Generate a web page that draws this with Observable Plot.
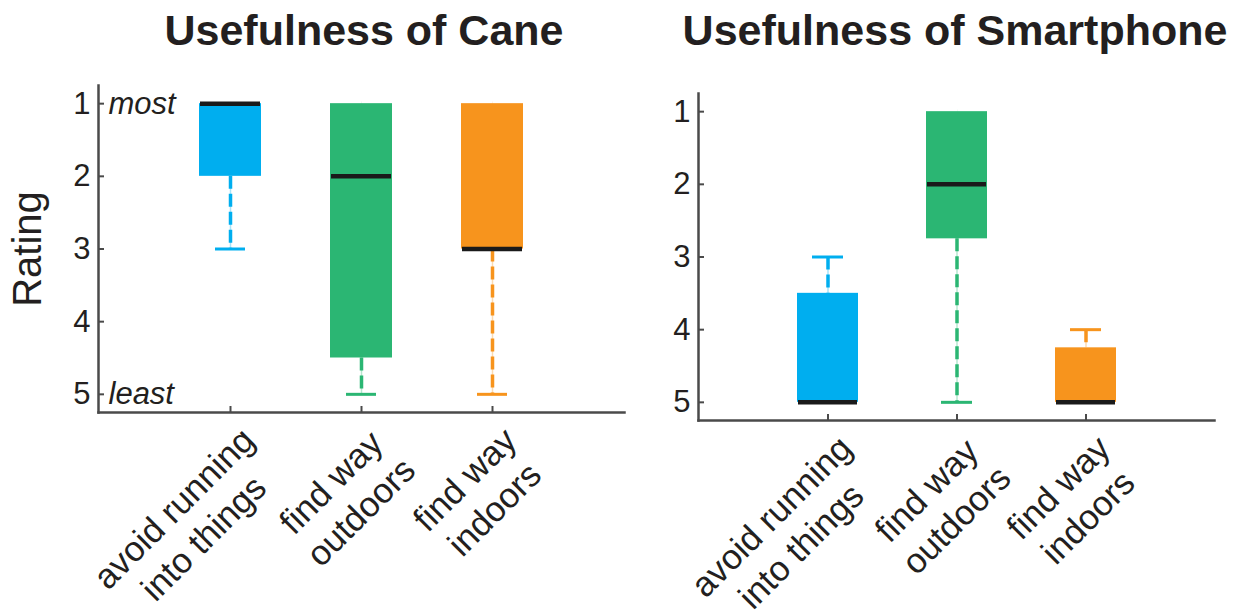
<!DOCTYPE html>
<html><head><meta charset="utf-8">
<script src="https://cdn.jsdelivr.net/npm/d3@7"></script>
<script src="https://cdn.jsdelivr.net/npm/@observablehq/plot@0.6"></script>
<style>
body{margin:0;background:#fff;}
#root{position:relative;width:1241px;height:611px;overflow:hidden;font-family:"Liberation Sans",Arial,sans-serif;}
.title{position:absolute;top:9px;font-weight:bold;font-size:43px;line-height:1;color:#231f20;white-space:nowrap;transform:translateX(-50%);}
.panel{position:absolute;top:0;}
</style></head><body>
<div id="root">
  <div class="title" style="left:364px">Usefulness of Cane</div>
  <div class="title" style="left:955px">Usefulness of Smartphone</div>
  <div class="panel" id="cane" style="left:0px"></div>
  <div class="panel" id="phone" style="left:640px"></div>
</div>
<script>
// categories and colours
const categories = ["avoid running\ninto things", "find way\noutdoors", "find way\nindoors"];
const colors = ["#00AEEF", "#2BB673", "#F7941D"];
const ratingTicks = [1, 2, 3, 4, 5];
const endLabels = ["most", "least"];
const endLabelRatings = [1, 5];

// Cane ratings (1 = most useful, 5 = least)
const caneWhiskerMin = [1, 1, 1];
const caneBoxLow = [1, 1, 1];
const caneMedian = [1, 2, 3];
const caneBoxHigh = [2, 4.5, 3];
const caneWhiskerMax = [3, 5, 5];

// Smartphone ratings
const phoneWhiskerMin = [3, 1, 4];
const phoneBoxLow = [3.5, 1, 4.25];
const phoneMedian = [5, 2, 5];
const phoneBoxHigh = [5, 2.75, 5];
const phoneWhiskerMax = [5, 5, 5];

const FONT = '"Liberation Sans", Arial, sans-serif';
const AXIS = "#4a4a4a";
const INK = "#231f20";

function panel({wmin, lo, med, hi, wmax, width, marginLeft, marginRight, marginTop, marginBottom, capInset, rating, ends}) {
  const rows = categories.map((c, i) => ({cat: c, color: colors[i], wmin: wmin[i], lo: lo[i], med: med[i], hi: hi[i], wmax: wmax[i]}));
  const whisk = (y1, y2) => [
    Plot.ruleX(rows, {x: "cat", y1, y2, stroke: "color", strokeWidth: 1.5, strokeOpacity: 0.35}),
    Plot.ruleX(rows, {x: "cat", y1, y2, stroke: "color", strokeWidth: 3.5, strokeDasharray: "13,5"})
  ];
  const marks = [
    ...whisk("wmin", "lo"),
    ...whisk("hi", "wmax"),
    Plot.tickY(rows, {filter: d => d.wmin < d.lo, x: "cat", y: "wmin", stroke: "color", strokeWidth: 3, insetLeft: capInset, insetRight: capInset}),
    Plot.tickY(rows, {filter: d => d.wmax > d.hi, x: "cat", y: "wmax", stroke: "color", strokeWidth: 3, insetLeft: capInset, insetRight: capInset}),
    Plot.barY(rows, {x: "cat", y1: "lo", y2: "hi", fill: "color"}),
    Plot.tickY(rows, {x: "cat", y: "med", stroke: "#1a1a1a", strokeWidth: 4.5, insetLeft: 1, insetRight: 1}),
    Plot.frame({anchor: "left", stroke: AXIS, strokeWidth: 2.5}),
    Plot.frame({anchor: "bottom", stroke: AXIS, strokeWidth: 2.5}),
    Plot.axisY({ticks: ratingTicks, tickFormat: d3.format("d"), tickSize: -6, tickPadding: 14, fontSize: 31, stroke: AXIS, strokeWidth: 2, fill: INK, label: null}),
    Plot.axisX({tickSize: -6, tickFormat: () => "", stroke: AXIS, strokeWidth: 2, label: null}),
    Plot.text(rows, {x: "cat", frameAnchor: "bottom", text: "cat", rotate: -45, textAnchor: "end", lineAnchor: "top", dx: 5, dy: 9, fontSize: 35, lineHeight: 1.2, fill: INK, ariaDescription: "xlabels"})
  ];
  if (ends) {
    marks.push(Plot.text(endLabels, {y: endLabelRatings, text: d => d, frameAnchor: "left", dx: 10, textAnchor: "start", lineAnchor: "middle", fontSize: 31, fontStyle: "italic", fill: INK}));
  }
  if (rating) {
    marks.push(Plot.text(["Rating"], {frameAnchor: "left", text: d => d, rotate: -90, dx: -70, textAnchor: "middle", lineAnchor: "middle", fontSize: 40, fill: INK}));
  }
  return Plot.plot({
    width, height: 611, marginLeft, marginRight, marginTop, marginBottom,
    style: {fontFamily: FONT, color: INK, background: "transparent", overflow: "visible"},
    x: {type: "band", domain: categories, paddingInner: 0.53, paddingOuter: 0.765},
    y: {domain: [0.75, 5.25], reverse: true},
    color: {type: "identity"},
    marks
  });
}

document.getElementById("cane").append(panel({
  wmin: caneWhiskerMin, lo: caneBoxLow, med: caneMedian, hi: caneBoxHigh, wmax: caneWhiskerMax,
  width: 640, marginLeft: 98, marginRight: 16, marginTop: 85, marginBottom: 199, capInset: 16, rating: true, ends: true
}));
document.getElementById("phone").append(panel({
  wmin: phoneWhiskerMin, lo: phoneBoxLow, med: phoneMedian, hi: phoneBoxHigh, wmax: phoneWhiskerMax,
  width: 601, marginLeft: 58, marginRight: 27, marginTop: 93, marginBottom: 191, capInset: 15, rating: false, ends: false
}));

// centre the lines of each rotated multi-line category label
document.querySelectorAll('g[aria-description="xlabels"] text').forEach(t => {
  const spans = [...t.querySelectorAll("tspan")];
  if (!spans.length) return;
  const lens = spans.map(s => s.getComputedTextLength());
  const max = Math.max(...lens);
  spans.forEach((s, i) => s.setAttribute("x", -(max - lens[i]) / 2));
});
</script>
</body></html>
